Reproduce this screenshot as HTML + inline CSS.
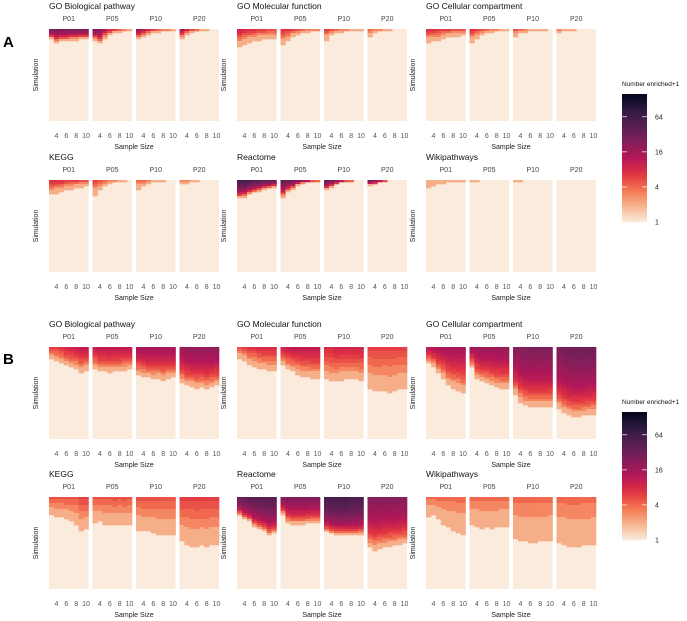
<!DOCTYPE html>
<html><head><meta charset="utf-8"><style>
body{margin:0;background:#fff;}
svg{display:block;font-family:"Liberation Sans",sans-serif;}
</style></head><body>
<svg id="fig" width="687" height="621" viewBox="0 0 687 621"></svg>
<script>
// ---- data ----
const sampleSizes = [3,4,5,6,7,8,9,10];
const tickLabels = [4,6,8,10];
const pLevels = ["P01","P05","P10","P20"];
const groupNames = ["GO Biological pathway","GO Molecular function","GO Cellular compartment","KEGG","Reactome","Wikipathways"];
const legendTicks = [1,4,16,64];
const depthA = [
 [[.11,.15,.13,.13,.12,.12,.11,.11],[.12,.16,.10,.07,.05,.04,.03,.02],[.11,.08,.06,.05,.04,.03,.03,.02],[.10,.06,.04,.03,.02,.02,.01,.01]],
 [[.20,.17,.15,.13,.12,.11,.10,.10],[.18,.12,.08,.06,.05,.04,.03,.03],[.12,.07,.05,.04,.03,.03,.02,.02],[.08,.05,.03,.02,.02,.01,.01,.01]],
 [[.15,.14,.12,.10,.09,.08,.08,.07],[.15,.10,.07,.05,.04,.03,.03,.02],[.08,.05,.04,.03,.02,.02,.02,.01],[.05,.03,.02,.02,.01,.01,.01,.01]],
 [[.16,.15,.13,.11,.10,.09,.08,.07],[.17,.10,.07,.04,.03,.02,.02,.01],[.10,.07,.04,.03,.02,.02,.01,.01],[.05,.04,.03,.02,.01,.01,.01,.01]],
 [[.20,.19,.16,.14,.12,.10,.09,.08],[.19,.13,.10,.06,.04,.03,.02,.02],[.11,.08,.05,.03,.02,.02,.01,.01],[.06,.05,.03,.02,.01,.01,.01,.01]],
 [[.09,.06,.05,.04,.03,.02,.02,.02],[.03,.02,.01,.01,.01,0,0,0],[.03,.02,0,0,0,0,0,0],[0,0,0,0,0,0,0,0]]
];
const topA = [
 [[30,30,30,30,30,30,30,30],[30,25,15,10,8,6,5,4],[20,15,10,8,6,5,4,4],[16,12,8,6,5,4,3,3]],
 [[10,9,8,8,7,7,6,6],[8,8,7,6,5,5,4,4],[7,6,5,4,4,3,3,3],[5,4,4,3,3,3,2,2]],
 [[8,8,8,7,7,6,6,6],[8,7,6,5,4,4,3,3],[6,5,4,3,3,3,2,2],[4,3,3,2,2,2,2,2]],
 [[8,8,8,7,7,7,6,6],[6,6,5,4,4,3,3,3],[5,5,4,3,3,3,2,2],[4,4,3,3,2,2,2,2]],
 [[60,60,55,50,50,45,45,40],[40,40,35,30,25,20,15,10],[40,35,30,20,15,10,8,6],[40,30,20,15,10,8,6,5]],
 [[2,2,2,2,2,2,2,2],[2,2,2,2,2,1,1,1],[2,2,1,1,1,1,1,1],[1,1,1,1,1,1,1,1]]
];
const depthB = [
 [[.14,.15,.17,.20,.22,.24,.28,.26],[.24,.27,.27,.28,.27,.27,.26,.25],[.30,.32,.33,.35,.34,.36,.34,.33],[.39,.42,.43,.45,.44,.46,.44,.42]],
 [[.12,.15,.19,.21,.23,.25,.27,.27],[.20,.25,.27,.30,.32,.33,.34,.34],[.35,.38,.37,.36,.34,.35,.35,.37],[.45,.48,.48,.47,.50,.47,.46,.45]],
 [[.18,.22,.28,.35,.42,.45,.47,.50],[.22,.35,.38,.40,.42,.44,.45,.45],[.52,.60,.64,.66,.66,.66,.66,.65],[.68,.72,.74,.76,.76,.75,.74,.73]],
 [[.20,.22,.22,.24,.26,.30,.37,.35],[.28,.27,.30,.30,.31,.30,.31,.30],[.36,.37,.38,.40,.41,.42,.42,.41],[.48,.52,.54,.55,.53,.54,.52,.52]],
 [[.20,.24,.26,.32,.35,.38,.42,.40],[.19,.28,.30,.30,.30,.29,.28,.28],[.38,.40,.41,.41,.41,.42,.42,.41],[.55,.58,.56,.55,.54,.53,.52,.51]],
 [[.22,.20,.25,.30,.33,.37,.40,.42],[.30,.32,.34,.33,.34,.33,.32,.32],[.45,.48,.48,.49,.49,.48,.48,.47],[.50,.52,.54,.55,.55,.53,.53,.52]]
];
const topB = [
 [[6,7,8,9,10,10,11,11],[11,12,12,12,12,12,12,12],[15,16,16,16,16,16,16,16],[18,20,20,20,20,20,20,20]],
 [[6,6,7,7,8,8,8,8],[10,10,11,11,11,11,11,11],[8,8,9,9,9,9,9,9],[6,6,6,6,6,6,6,6]],
 [[12,13,14,14,15,15,15,15],[16,17,18,18,18,18,18,18],[24,25,26,26,26,26,26,26],[28,30,32,32,32,32,32,32]],
 [[5,5,5,5,5,5,6,6],[5,5,5,5,5,5,5,5],[5,5,5,5,5,5,5,5],[6,6,6,6,6,6,6,6]],
 [[35,40,45,45,45,45,45,45],[25,25,25,25,25,25,25,25],[55,60,60,60,60,55,55,55],[24,24,24,24,24,24,24,24]],
 [[4,4,4,4,4,4,4,4],[4,4,4,4,4,4,4,4],[4,4,4,4,4,4,4,4],[4,4,4,4,4,4,4,4]]
];

// ---- rendering ----
const NS="http://www.w3.org/2000/svg";
const svg=document.getElementById('fig');
function mk(tag,attrs,parent,txt){const e=document.createElementNS(NS,tag);for(const k in attrs)e.setAttribute(k,attrs[k]);if(txt!==undefined)e.textContent=txt;(parent||svg).appendChild(e);return e;}
const stops=[[0,[3,5,26]],[.125,[46,26,64]],[.25,[86,31,83]],[.375,[132,30,90]],[.5,[180,22,88]],[.625,[225,51,66]],[.75,[243,118,81]],[.875,[246,180,142]],[1,[250,235,221]]];
const LMAX=7.3;
function color(v){let t=1-Math.min(1,Math.log2(Math.max(1,v))/LMAX);
 for(let i=1;i<stops.length;i++){if(t<=stops[i][0]){const a=stops[i-1],b=stops[i];const f=(t-a[0])/(b[0]-a[0]);const c=a[1].map((x,j)=>Math.round(x+(b[1][j]-x)*f));return `rgb(${c[0]},${c[1]},${c[2]})`;}}
 return 'rgb(250,235,221)';}
const groupX=[49,237,426];
const panelW=39.5, panelStep=43.5, panelH=92;
const N=46;
const rowTopsA=[29,180], rowTopsB=[347,497];
function xScale(x0,s){return x0+(s-sampleSizes[0]+0.5)*(panelW/sampleSizes.length);}
function drawSection(tops,depth,top,shape,label,labelY){
 const L=mk('text',{x:3,y:labelY,'font-size':15,'font-weight':'bold',fill:'#000'},svg,label);
 
 
 for(let g=0;g<6;g++){
  const r=Math.floor(g/3), c=g%3, y0=tops[r], x0=groupX[c];
  const grp=mk('g',{});
  
  
  const t=mk('text',{x:x0,y:y0-20,'font-size':8.5,fill:'#111'},grp,groupNames[g]);
  
  
  const yl=mk('text',{x:0,y:0,'font-size':7,fill:'#222','text-anchor':'middle',transform:`translate(${x0-11},${y0+panelH/2}) rotate(-90)`},grp,'Simulation');
  
  
  const xl=mk('text',{x:x0+(3*panelStep+panelW)/2,y:y0+panelH+28,'font-size':7,fill:'#222','text-anchor':'middle'},grp,'Sample Size');
  
  
  for(let p=0;p<4;p++){
   const px=x0+p*panelStep;
   const st=mk('text',{x:px+panelW/2,y:y0-8,'font-size':7,fill:'#444','text-anchor':'middle'},grp,pLevels[p]);
   
   
   const bg=mk('rect',{x:px,y:y0,width:panelW,height:panelH,fill:color(1)},grp);
   
   
   const cw=panelW/sampleSizes.length, rh=panelH/N;
   for(let k=0;k<sampleSizes.length;k++){
    const d=depth[g][p][k], T=top[g][p][k];
    const cx=xScale(px,sampleSizes[k])-cw/2;
    for(let i=0;i<N;i++){
     const f=(i+0.5)/N; if(f>=d) break;
     let v=1+(T-1)*Math.pow(1-f/d,shape); v=Math.max(2,Math.round(v));
     if(T<2) v=T;
     const cell=mk('rect',{x:cx.toFixed(2),y:(y0+i*rh).toFixed(2),width:(cw+0.3).toFixed(2),height:(rh+0.3).toFixed(2),fill:color(v)},grp);
     
     
    }
   }
   for(const tv of tickLabels){
    const tk=mk('text',{x:xScale(px,tv),y:y0+panelH+17,'font-size':7,fill:'#555','text-anchor':'middle'},grp,String(tv));
    
    
   }
  }
 }
}
drawSection(rowTopsA,depthA,topA,1.5,'A',47);
drawSection(rowTopsB,depthB,topB,1.2,'B',364);

function legend(topY,botY,titleY){
 const lg=mk('g',{});
 
 
 const tt=mk('text',{x:622,y:titleY,'font-size':6.5,fill:'#111'},lg,'Number enriched+1');
 
 
 const ly=v=>botY-(botY-topY)*Math.log2(v)/LMAX;
 for(let i=0;i<60;i++){
  const y=topY+(botY-topY)*i/60;
  const v=Math.pow(2,LMAX*(1-(i+0.5)/60));
  const r=mk('rect',{x:622,y:y.toFixed(2),width:25,height:((botY-topY)/60+0.4).toFixed(2),fill:color(v)},lg);
  
  
 }
 for(const v of legendTicks){
  const y=ly(v);
  mk('line',{x1:622,x2:627,y1:y,y2:y,stroke:'#fff','stroke-width':0.7},lg);
  mk('line',{x1:642,x2:647,y1:y,y2:y,stroke:'#fff','stroke-width':0.7},lg);
  const l=mk('text',{x:655,y:y+2.5,'font-size':7,fill:'#222'},lg,String(v));
  
  
 }
}
legend(94,222,86);
legend(412,540,404);
</script>
</body></html>
